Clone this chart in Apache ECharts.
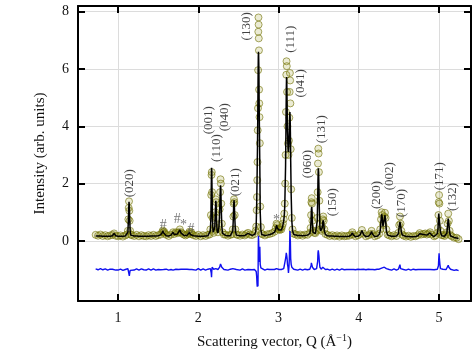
<!DOCTYPE html>
<html>
<head>
<meta charset="utf-8">
<script src="https://cdn.jsdelivr.net/npm/echarts@6/dist/echarts.min.js"></script>
<style>html,body{margin:0;padding:0;background:#fff;}#c{width:474px;height:363px;}</style>
</head>
<body>
<div id="c"></div>
<script>
// Scattering vector Q (1/Angstrom)
const Q = [
0.72,0.75,0.78,0.81,0.84,0.87,0.90,0.93,0.95,0.97,1.00,1.03,1.06,1.09,1.11,
1.122,1.128,1.132,1.136,1.140,1.144,1.150,1.158,
1.17,1.20,1.23,1.26,1.29,1.32,1.35,1.38,1.41,1.44,1.47,1.50,1.53,
1.55,1.558,1.566,1.575,1.585,1.60,1.63,1.66,
1.685,1.70,1.72,1.74,1.755,1.77,1.785,1.80,1.82,1.84,1.86,
1.88,1.89,1.90,1.91,1.92,1.94,1.97,2.00,2.03,2.06,2.09,2.12,2.14,
2.150,2.157,2.161,2.165,2.168,2.172,2.177,2.184,
2.192,2.205,2.212,2.218,2.222,2.227,2.234,
2.245,2.258,2.266,2.272,2.277,2.281,2.286,2.293,2.303,2.32,
2.34,2.37,2.40,2.42,
2.430,2.437,2.441,2.445,2.449,2.454,2.462,2.475,
2.49,2.52,2.55,2.58,2.60,2.62,2.64,2.67,2.70,
2.715,2.722,2.728,2.732,2.735,2.738,2.741,2.744,2.746,2.748,2.750,2.752,2.754,2.756,2.758,2.760,2.763,2.767,2.772,2.780,2.790,
2.80,2.83,2.86,2.89,2.92,2.95,
2.965,2.975,2.985,2.995,3.005,3.015,3.025,3.035,3.045,3.055,3.065,3.072,3.078,3.083,
3.088,3.093,3.097,3.100,3.103,3.107,3.112,3.118,3.124,3.130,3.135,3.139,3.142,3.145,3.148,3.152,3.158,3.166,3.175,3.19,
3.21,3.24,3.27,3.30,3.33,3.36,3.39,
3.400,3.406,3.410,3.414,3.418,3.423,3.430,
3.445,3.46,3.475,3.483,3.488,3.492,3.496,3.500,3.504,3.509,3.516,3.525,
3.535,3.545,3.552,3.558,3.564,3.572,3.585,
3.61,3.64,3.67,3.70,3.73,3.76,3.79,3.82,3.85,3.88,3.905,3.92,3.935,3.96,3.99,4.02,4.04,4.06,4.09,4.12,4.145,4.16,4.175,4.20,4.23,4.255,
4.268,4.278,4.286,4.294,4.302,4.310,4.319,4.327,4.335,4.345,4.36,
4.38,4.41,4.44,4.47,4.495,
4.505,4.514,4.522,4.532,4.545,
4.56,4.59,4.62,4.65,4.68,4.71,4.74,4.76,4.78,4.81,4.83,4.85,4.87,4.89,4.91,4.94,4.96,4.98,
4.988,4.994,4.998,5.002,5.006,5.012,5.02,5.035,
5.05,5.07,5.09,5.10,
5.108,5.116,5.124,5.133,5.145,
5.16,5.19,5.22,5.245
];
// Observed intensity (circles)
const OBS = [
0.21,0.18,0.22,0.17,0.20,0.16,0.19,0.21,0.26,0.18,0.16,0.19,0.15,0.19,0.22,
0.35,0.75,1.15,1.38,1.05,0.70,0.35,0.22,
0.20,0.17,0.21,0.16,0.20,0.17,0.16,0.20,0.17,0.21,0.17,0.20,0.22,
0.30,0.36,0.30,0.32,0.25,0.21,0.17,0.22,
0.30,0.24,0.30,0.27,0.30,0.40,0.30,0.25,0.22,0.19,0.22,
0.26,0.32,0.24,0.30,0.24,0.20,0.17,0.21,0.16,0.20,0.17,0.21,0.22,
0.40,0.90,1.60,2.30,2.40,1.70,0.80,0.35,
0.28,0.50,1.00,1.45,1.35,0.80,0.40,
0.30,0.55,1.10,1.70,2.15,2.00,1.30,0.60,0.30,0.22,
0.22,0.18,0.21,0.23,
0.40,0.85,1.30,1.45,1.35,0.90,0.40,0.22,
0.21,0.18,0.22,0.19,0.24,0.28,0.22,0.20,0.24,
0.35,0.50,1.07,1.53,2.12,2.75,3.86,4.63,5.96,7.30,7.80,7.55,7.07,6.65,5.28,4.80,4.32,3.41,1.20,0.48,0.25,
0.23,0.19,0.23,0.24,0.27,0.32,
0.45,0.60,0.55,0.42,0.40,0.38,0.45,0.40,0.50,0.60,0.75,0.95,1.30,2.00,
3.00,4.50,5.80,6.27,6.10,5.20,4.00,3.40,3.00,3.50,4.30,5.20,5.86,5.60,4.80,3.20,1.80,0.80,0.40,0.25,
0.23,0.19,0.22,0.18,0.22,0.21,0.28,
0.45,0.90,1.35,1.49,1.30,0.70,0.35,
0.28,0.27,0.35,0.80,1.70,2.70,3.22,3.05,2.40,1.40,0.60,0.40,
0.35,0.50,0.75,0.85,0.70,0.40,0.24,
0.21,0.17,0.20,0.16,0.19,0.15,0.19,0.16,0.17,0.18,0.22,0.30,0.22,0.16,0.19,0.24,0.38,0.25,0.16,0.19,0.24,0.35,0.24,0.16,0.19,0.25,
0.40,0.75,1.00,0.90,0.60,0.55,0.85,0.98,0.80,0.40,0.22,
0.19,0.16,0.20,0.17,0.28,
0.55,0.85,0.60,0.35,0.22,
0.18,0.15,0.18,0.14,0.17,0.16,0.20,0.27,0.22,0.24,0.26,0.22,0.25,0.30,0.22,0.16,0.19,0.28,
0.45,0.90,1.35,1.60,1.30,0.70,0.35,0.20,
0.20,0.17,0.22,0.30,
0.60,0.95,0.70,0.35,0.20,
0.16,0.11,0.11,0.06
];
// Calculated intensity (black line)
const CALC = [
0.17,0.17,0.17,0.16,0.16,0.16,0.16,0.18,0.26,0.18,0.16,0.16,0.16,0.17,0.22,
0.30,0.70,1.10,1.36,1.25,0.82,0.36,0.20,
0.17,0.17,0.17,0.16,0.16,0.16,0.16,0.16,0.17,0.17,0.17,0.18,0.21,
0.28,0.35,0.28,0.30,0.22,0.18,0.17,0.20,
0.30,0.22,0.27,0.24,0.28,0.38,0.27,0.22,0.19,0.18,0.19,
0.24,0.30,0.22,0.28,0.22,0.18,0.17,0.16,0.16,0.16,0.17,0.18,0.20,
0.35,0.80,1.70,2.55,2.45,1.60,0.70,0.30,
0.25,0.45,1.00,1.40,1.30,0.70,0.35,
0.28,0.50,1.00,1.60,1.94,1.80,1.15,0.50,0.26,0.20,
0.19,0.18,0.18,0.21,
0.35,0.80,1.25,1.42,1.30,0.85,0.35,0.20,
0.18,0.18,0.18,0.19,0.22,0.26,0.21,0.19,0.22,
0.30,0.55,1.30,2.00,2.70,3.30,4.20,5.20,5.90,6.40,6.60,6.50,6.20,5.80,5.00,4.40,3.60,2.60,1.00,0.40,0.22,
0.20,0.19,0.20,0.22,0.25,0.30,
0.40,0.55,0.45,0.40,0.38,0.36,0.40,0.38,0.45,0.55,0.70,0.90,1.20,1.90,
2.60,4.00,5.20,5.72,5.60,4.80,3.80,3.30,3.10,3.40,3.90,4.30,4.50,4.30,3.80,2.80,1.60,0.70,0.35,0.22,
0.20,0.19,0.19,0.18,0.19,0.20,0.25,
0.40,0.75,1.10,1.19,1.05,0.60,0.30,
0.26,0.25,0.30,0.70,1.40,2.10,2.53,2.40,1.90,1.10,0.50,0.35,
0.32,0.45,0.65,0.72,0.60,0.35,0.22,
0.18,0.17,0.17,0.16,0.16,0.15,0.15,0.15,0.15,0.16,0.20,0.28,0.20,0.15,0.16,0.22,0.36,0.22,0.15,0.16,0.22,0.33,0.22,0.15,0.16,0.22,
0.35,0.70,0.93,0.80,0.50,0.50,0.75,0.90,0.70,0.35,0.20,
0.17,0.16,0.16,0.17,0.25,
0.50,0.66,0.55,0.30,0.20,
0.16,0.15,0.15,0.14,0.14,0.15,0.18,0.25,0.20,0.22,0.24,0.20,0.23,0.28,0.20,0.15,0.16,0.25,
0.40,0.75,0.95,1.01,0.90,0.50,0.30,0.18,
0.17,0.16,0.20,0.28,
0.55,0.78,0.60,0.30,0.17,
0.14,0.12,0.10,0.08
];
const DIFF_OFFSET = -1.02;

// Reflection labels and their anchor positions (data coords)
const PEAK_LABELS = ['(020)','(001)','(110)','(040)','(021)','(130)','(111)','(041)','(060)','(131)','(150)','(200)','(002)','(170)','(171)','(132)'];
const PEAK_LABEL_Q = [1.143,2.128,2.234,2.333,2.470,2.607,3.156,3.280,3.368,3.542,3.679,4.227,4.389,4.539,5.012,5.174];
const PEAK_LABEL_I = [2.01,4.21,3.24,4.32,2.05,7.49,7.04,5.50,2.68,3.90,1.35,1.60,2.26,1.32,2.26,1.53];
// Impurity markers
const MARK_TEXT = ['#','#','*','#','*'];
const MARK_Q = [1.563,1.739,1.814,1.910,2.974];
const MARK_I = [0.55,0.76,0.55,0.41,0.72];

const X_TICKS = [1,2,3,4,5];
const Y_TICKS = [0,2,4,6,8];

const obsData = Q.map((q,i)=>[q,OBS[i]]);
const calcData = Q.map((q,i)=>[q,CALC[i]]);
const diffData = Q.map((q,i)=>[q,OBS[i]-CALC[i]+DIFF_OFFSET]);
const peakLabelData = PEAK_LABELS.map((t,i)=>[PEAK_LABEL_Q[i],PEAK_LABEL_I[i],t]);
const markData = MARK_TEXT.map((t,i)=>[MARK_Q[i],MARK_I[i],t]);

const FONT = 'Liberation Serif';
const chart = echarts.init(document.getElementById('c'));
const baseX = {type:'value',min:0.5,max:5.4};
const baseY = {type:'value',min:-2.1,max:8.2};
chart.setOption({
  animation:false,
  backgroundColor:'#fff',
  grid:{left:78,right:3,top:6,bottom:62,containLabel:false},
  xAxis:[
    Object.assign({},baseX,{
      position:'bottom',
      name:'Scattering vector, Q (Å{s|−1})',
      nameLocation:'middle',nameGap:32,
      nameTextStyle:{fontFamily:FONT,fontSize:15,color:'#111',rich:{s:{fontFamily:FONT,fontSize:10,color:'#111',padding:[0,0,9,0]}}},
      axisLine:{show:true,onZero:false,lineStyle:{color:'#000',width:2}},
      axisTick:{show:true,inside:true,length:7,lineStyle:{color:'#000',width:2},customValues:X_TICKS},
      axisLabel:{show:true,customValues:X_TICKS,fontFamily:FONT,fontSize:14,color:'#111',margin:10},
      splitLine:{show:true,lineStyle:{color:'#dcdcdc',width:1}}
    }),
    Object.assign({},baseX,{
      position:'top',
      axisLine:{show:true,onZero:false,lineStyle:{color:'#000',width:2}},
      axisTick:{show:true,inside:true,length:7,lineStyle:{color:'#000',width:2},customValues:X_TICKS},
      axisLabel:{show:false},
      splitLine:{show:false}
    })
  ],
  yAxis:[
    Object.assign({},baseY,{
      position:'left',
      name:'Intensity (arb. units)',
      nameLocation:'middle',nameGap:30,nameRotate:90,
      nameTextStyle:{fontFamily:FONT,fontSize:15,color:'#111'},
      axisLine:{show:true,onZero:false,lineStyle:{color:'#000',width:2}},
      axisTick:{show:true,inside:true,length:7,lineStyle:{color:'#000',width:2},customValues:Y_TICKS},
      axisLabel:{show:true,customValues:Y_TICKS,fontFamily:FONT,fontSize:14,color:'#111',margin:9},
      splitLine:{show:true,lineStyle:{color:'#dcdcdc',width:1}}
    }),
    Object.assign({},baseY,{
      position:'right',
      axisLine:{show:true,onZero:false,lineStyle:{color:'#000',width:2}},
      axisTick:{show:true,inside:true,length:7,lineStyle:{color:'#000',width:2},customValues:Y_TICKS},
      axisLabel:{show:false},
      splitLine:{show:false}
    })
  ],
  series:[
    {
      type:'scatter',name:'Observed',data:obsData,xAxisIndex:0,yAxisIndex:0,
      symbol:'circle',symbolSize:7,z:2,
      itemStyle:{color:'rgba(140,140,10,0.22)',borderColor:'rgba(110,110,0,0.75)',borderWidth:1}
    },
    {
      type:'line',name:'Calculated',data:calcData,xAxisIndex:0,yAxisIndex:0,
      showSymbol:false,symbol:'none',z:3,
      lineStyle:{color:'#000',width:1.5}
    },
    {
      type:'line',name:'Difference',data:diffData,xAxisIndex:0,yAxisIndex:0,
      showSymbol:false,symbol:'none',z:3,
      lineStyle:{color:'#1010f0',width:1.4}
    },
    {
      type:'scatter',name:'hkl',data:peakLabelData,xAxisIndex:0,yAxisIndex:0,
      symbolSize:0,z:5,silent:true,
      label:{show:true,position:'inside',rotate:90,align:'center',verticalAlign:'middle',
        formatter:p=>p.value[2],fontFamily:FONT,fontSize:13,color:'#111'}
    },
    {
      type:'scatter',name:'marks',data:markData,xAxisIndex:0,yAxisIndex:0,
      symbolSize:0,z:5,silent:true,
      label:{show:true,position:'inside',align:'center',verticalAlign:'middle',
        formatter:p=>p.value[2],fontFamily:FONT,fontSize:14,color:'#555'}
    }
  ]
});
</script>
</body>
</html>
